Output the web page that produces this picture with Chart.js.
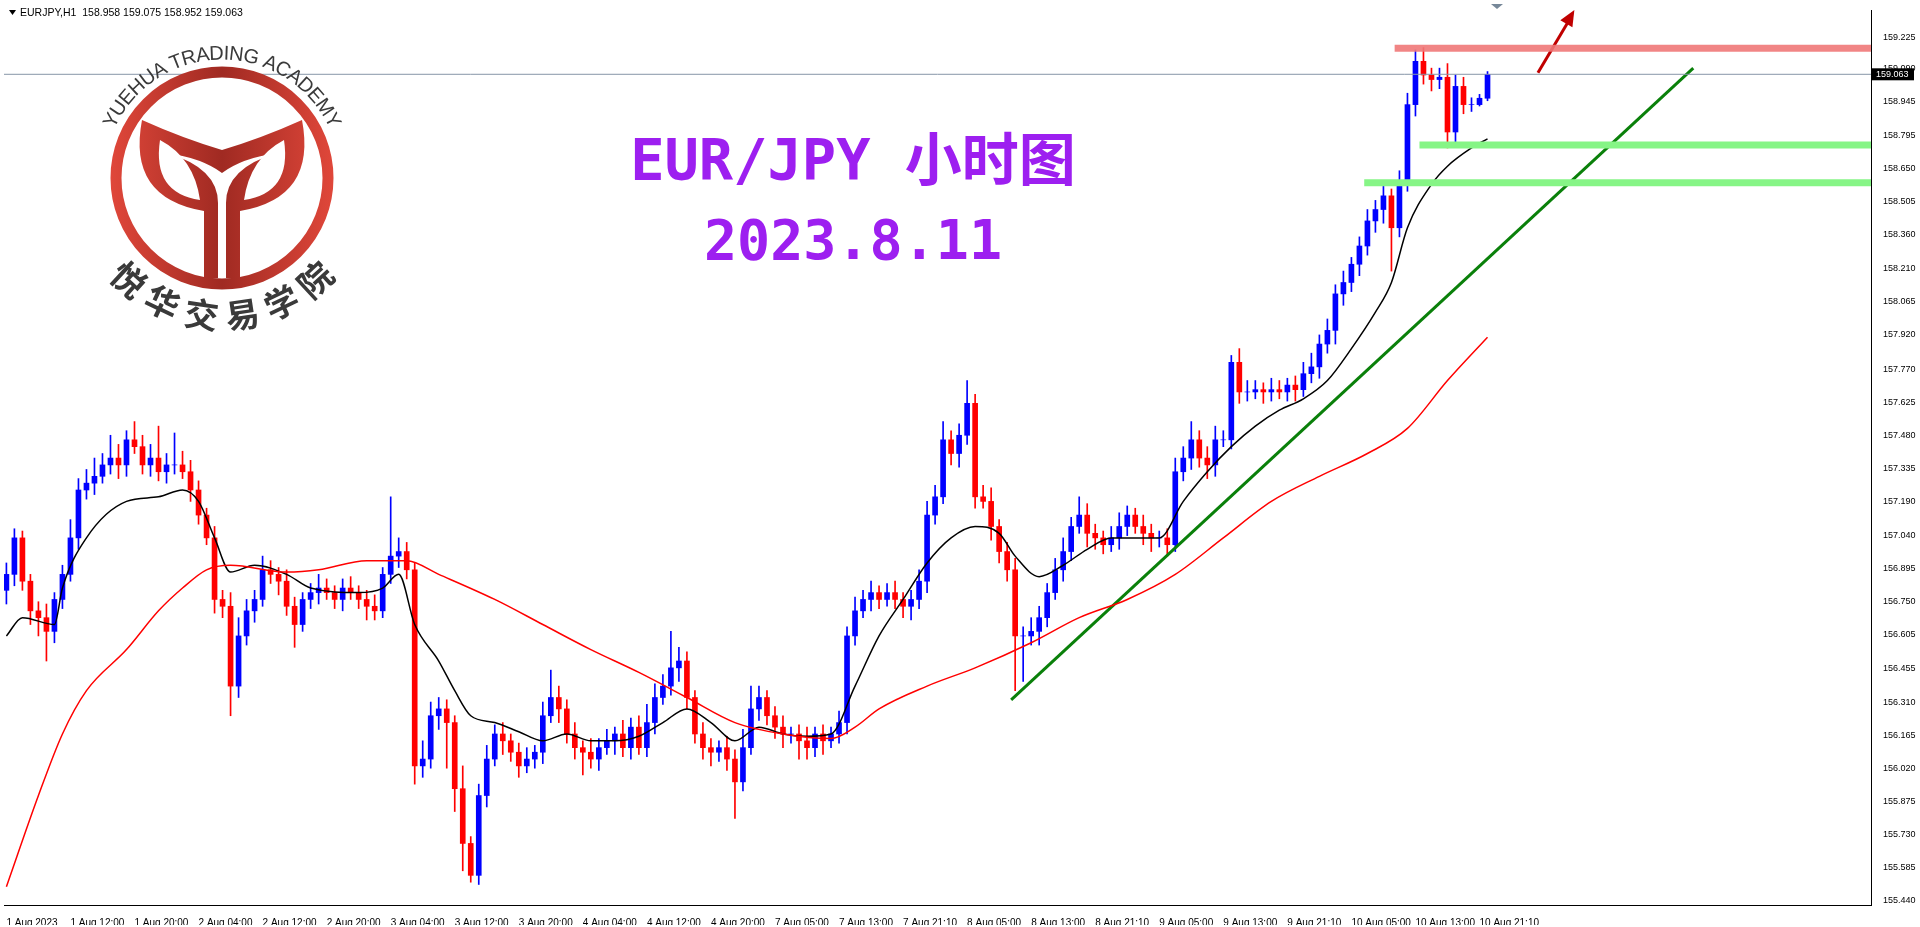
<!doctype html>
<html><head>
<meta charset="utf-8">
<title>EURJPY H1</title>
<script src="https://cdn.jsdelivr.net/npm/chart.js"></script>
<style>
  html, body { margin:0; padding:0; background:#fff; overflow:hidden; }
  #wrap { position:relative; width:1920px; height:927px; }
</style>
</head>
<body>
<div id="wrap"><canvas id="myChart" width="1920" height="927"></canvas></div>
<script>
// closes of each H1 bar (open = previous close)
const closes = [
156.87,157.03,156.84,156.71,156.68,156.62,156.76,156.87,157.03,157.24,
157.27,157.30,157.35,157.38,157.35,157.46,157.43,157.35,157.38,157.32,
157.35,157.35,157.32,157.24,157.13,157.03,156.76,156.73,156.38,156.60,
156.71,156.76,156.89,156.87,156.84,156.73,156.65,156.76,156.79,156.81,
156.79,156.76,156.81,156.79,156.76,156.73,156.71,156.87,156.95,156.97,
156.89,156.03,156.06,156.25,156.28,156.22,155.93,155.69,155.55,155.90,
156.06,156.17,156.14,156.09,156.03,156.06,156.09,156.25,156.33,156.28,
156.17,156.11,156.09,156.06,156.11,156.14,156.17,156.11,156.20,156.11,
156.22,156.33,156.38,156.46,156.49,156.33,156.17,156.11,156.09,156.11,
156.06,155.96,156.11,156.28,156.33,156.25,156.20,156.17,156.17,156.14,
156.11,156.17,156.14,156.17,156.22,156.60,156.71,156.76,156.79,156.76,
156.79,156.76,156.73,156.76,156.84,157.13,157.21,157.46,157.40,157.48,
157.62,157.21,157.19,157.08,156.97,156.89,156.60,156.60,156.62,156.68,
156.79,156.89,156.97,157.08,157.13,157.05,157.03,157.00,157.03,157.08,
157.13,157.08,157.05,157.03,157.03,157.00,157.32,157.38,157.46,157.38,
157.35,157.46,157.46,157.80,157.67,157.67,157.68,157.67,157.68,157.67,
157.70,157.68,157.75,157.78,157.88,157.94,158.10,158.15,158.23,158.31,
158.42,158.47,158.53,158.39,158.58,158.93,159.12,159.06,159.04,159.05,
158.81,159.01,158.93,158.93,158.958,159.063
];
const firstOpen = 156.80;
// upper / lower wick lengths in hundredths of a yen
const upWick = [
5,4,3,3,4,6,3,4,8,5, 6,8,5,10,6,4,8,5,6,14, 5,14,6,5,4,3,5,4,6,8,
5,4,6,4,3,5,4,3,4,6, 4,3,4,5,3,4,5,3,26,6, 4,3,8,6,5,4,3,10,3,5,
6,4,5,3,4,5,3,6,12,5, 4,5,3,6,4,5,3,6,4,5, 8,6,5,16,6,4,3,5,4,3,
5,4,8,10,5,3,4,5,3,4, 6,3,4,3,5,4,6,4,5,3, 4,5,3,4,5,6,5,8,4,5,
10,4,5,6,3,4,5,4,6,5, 4,5,6,4,8,5,4,3,5,6, 4,3,5,4,3,4,6,5,8,4,
5,6,4,3,6,5,4,3,5,4, 3,4,5,6,4,5,4,5,3,4, 5,4,5,3,6,5,5,6,3,4,
6,5,4,3,1.7,1.2
];
const dnWick = [
6,5,4,6,8,13,5,4,3,5, 4,5,3,4,6,5,3,4,5,4, 5,4,3,5,4,3,6,5,13,5,
4,5,3,4,6,4,10,3,4,5, 3,4,5,3,4,6,4,3,4,5, 4,8,5,4,6,20,10,12,3,4,
5,3,6,4,5,3,4,5,3,6, 4,5,10,4,5,3,6,4,5,3, 4,5,3,4,6,5,4,5,6,4,
5,16,4,3,5,4,5,6,4,8, 5,4,6,3,4,5,4,3,5,4, 3,4,5,6,4,5,4,3,5,6,
4,5,3,6,5,5,24,20,4,6, 4,3,5,4,3,6,5,4,3,5, 4,3,5,6,4,5,3,4,5,4,
6,5,3,4,5,4,3,5,4,3, 4,5,3,4,5,4,6,5,4,5, 4,5,6,19,4,3,5,4,5,4,
7,5,4,3,0.6,1.1
];
// moving averages: [bar, price]
const maFast = [
[0,156.60],[2,156.68],[6,156.65],[7,156.81],[10,157.03],[15,157.19],[19,157.21],[22,157.24],
[24,157.19],[26,157.03],[28,156.88],[31,156.91],[35,156.87],[38,156.81],[44,156.79],[47,156.81],
[49,156.87],[51,156.65],[54,156.49],[56,156.36],[58,156.25],[61,156.22],[64,156.18],[67,156.14],
[70,156.17],[73,156.14],[76,156.14],[79,156.16],[82,156.22],[85,156.28],[88,156.22],[91,156.14],
[94,156.20],[97,156.17],[100,156.16],[103,156.17],[106,156.38],[109,156.60],[112,156.76],[115,156.92],
[118,157.03],[121,157.08],[124,157.05],[126,156.95],[129,156.86],[132,156.91],[135,156.98],[138,157.03],
[141,157.03],[144,157.03],[147,157.19],[150,157.32],[153,157.43],[156,157.52],[159,157.59],[162,157.64],
[165,157.72],[168,157.86],[171,158.02],[173,158.15],[175,158.39],[178,158.58],[180,158.66],[183,158.74],
[185,158.78]
];
const maSlow = [
[0,155.50],[4,155.90],[7,156.17],[10,156.36],[15,156.54],[19,156.71],[22,156.81],[25,156.89],
[28,156.91],[35,156.88],[39,156.89],[45,156.93],[50,156.93],[54,156.87],[61,156.76],[67,156.65],
[73,156.54],[79,156.44],[85,156.33],[91,156.22],[97,156.17],[103,156.15],[106,156.20],[109,156.28],
[115,156.38],[121,156.46],[128,156.57],[134,156.68],[140,156.76],[146,156.87],[152,157.03],[158,157.19],
[164,157.30],[170,157.40],[175,157.51],[180,157.72],[185,157.91]
];
const trendLine = [[125.5,156.32],[210.7,159.09]];
const resistance = [[173.4,159.177],[240,159.177]];
const support1 = [[176.5,158.753],[240,158.753]];
const support2 = [[169.6,158.587],[240,158.587]];
const arrowPts = [[191.3,159.07],[195.6,159.33]];
const lastPrice = 159.063;
const yTicks = [159.225,159.090,158.945,158.795,158.650,158.505,158.360,158.210,158.065,157.920,
157.770,157.625,157.480,157.335,157.190,157.040,156.895,156.750,156.605,156.455,156.310,156.165,
156.020,155.875,155.730,155.585,155.440];
const xLabels = ['1 Aug 2023','1 Aug 12:00','1 Aug 20:00','2 Aug 04:00','2 Aug 12:00','2 Aug 20:00',
'3 Aug 04:00','3 Aug 12:00','3 Aug 20:00','4 Aug 04:00','4 Aug 12:00','4 Aug 20:00','7 Aug 05:00',
'7 Aug 13:00','7 Aug 21:10','8 Aug 05:00','8 Aug 13:00','8 Aug 21:10','9 Aug 05:00','9 Aug 13:00',
'9 Aug 21:10','10 Aug 05:00','10 Aug 13:00','10 Aug 21:10'];

var opens = closes.map((c,i) => i === 0 ? firstOpen : closes[i-1]);
var bodies = closes.map((c,i) => ({x:i, y:[opens[i], c]}));
var wicks = closes.map((c,i) => ({x:i, y:[Math.min(opens[i],c) - dnWick[i]/100, Math.max(opens[i],c) + upWick[i]/100]}));
var candleColor = ctx => { var i = ctx.dataIndex; return closes[i] >= opens[i] ? '#0000ff' : '#ff0000'; };
var pts = a => a.map(p => ({x:p[0], y:p[1]}));
var lineDs = (data, color, width, extra) => Object.assign({type:'line', data:pts(data), borderColor:color,
  borderWidth:width, pointRadius:0, tension:0, order:0}, extra || {});

// logo, titles, header and price label
const overlay = {
  id:'overlay',
  afterDatasetsDraw(chart) {
    var c = chart.ctx, ys = chart.scales.y, ca = chart.chartArea;
    c.save();
    // logo
    var cx = 222, cy = 178;
    var g = c.createLinearGradient(cx-112,0,cx+112,0);
    g.addColorStop(0,'#e0473a'); g.addColorStop(0.5,'#a02a22'); g.addColorStop(1,'#e0473a');
    c.strokeStyle = g; c.fillStyle = g;
    c.lineWidth = 11;
    c.beginPath(); c.arc(cx, cy, 106, 0, Math.PI*2); c.stroke();
    // cup / leaves
    c.beginPath();
    c.moveTo(cx-80, cy-58);
    c.quadraticCurveTo(cx-40, cy-40, cx, cy-28);
    c.quadraticCurveTo(cx+40, cy-40, cx+80, cy-58);
    c.quadraticCurveTo(cx+95, cy+20, cx+18, cy+33);
    c.lineTo(cx+18, cy+100); c.lineTo(cx+4, cy+100); c.lineTo(cx+4, cy+25);
    c.quadraticCurveTo(cx+4, cy-10, cx+55, cy-25);
    c.quadraticCurveTo(cx+20, cy-20, cx, cy-5);
    c.quadraticCurveTo(cx-20, cy-20, cx-55, cy-25);
    c.quadraticCurveTo(cx-4, cy-10, cx-4, cy+25);
    c.lineTo(cx-4, cy+100); c.lineTo(cx-18, cy+100); c.lineTo(cx-18, cy+33);
    c.quadraticCurveTo(cx-95, cy+20, cx-80, cy-58);
    c.closePath(); c.fill();
    c.fillStyle = '#fff';
    c.beginPath();
    c.moveTo(cx-62, cy-38);
    c.quadraticCurveTo(cx-70, cy+15, cx-22, cy+22);
    c.quadraticCurveTo(cx-28, cy-20, cx-62, cy-38);
    c.moveTo(cx+62, cy-38);
    c.quadraticCurveTo(cx+70, cy+15, cx+22, cy+22);
    c.quadraticCurveTo(cx+28, cy-20, cx+62, cy-38);
    c.fill();
    // arc texts, spaced by glyph width
    c.fillStyle = '#3a3a3a';
    c.textAlign = 'center'; c.textBaseline = 'middle';
    var arcText = (txt, r, aMid, font, below, gap) => {
      c.font = font;
      var ws = [...txt].map(ch => c.measureText(ch).width + gap);
      var total = ws.reduce((a,b) => a+b, 0);
      var dir = below ? -1 : 1;
      var a = aMid - dir*total/2/r;
      [...txt].forEach((ch,k) => {
        var am = a + dir*ws[k]/2/r;
        c.save();
        c.translate(cx + r*Math.cos(am), cy + r*Math.sin(am));
        c.rotate(below ? am - Math.PI/2 : am + Math.PI/2);
        c.fillText(ch, 0, 0);
        c.restore();
        a += dir*ws[k]/r;
      });
    };
    arcText('YUEHUA TRADING ACADEMY', 124, -Math.PI/2, '20px "Liberation Sans"', false, 0);
    arcText('悦华交易学院', 138, Math.PI/2, 'bold 34px "Noto Sans CJK SC"', true, 7);
    // titles
    c.fillStyle = '#9d1ff0';
    c.font = 'bold 57px "DejaVu Sans Mono", "Noto Sans CJK SC"';
    c.fillText('EUR/JPY 小时图', 853, 165);
    c.font = 'bold 55px "DejaVu Sans Mono"';
    c.fillText('2023.8.11', 853, 245);
    // header
    c.fillStyle = '#000';
    c.textAlign = 'left';
    c.font = '10.5px "Liberation Sans"';
    c.fillText('EURJPY,H1  158.958 159.075 158.952 159.063', 20, 13);
    c.beginPath(); c.moveTo(9,10); c.lineTo(16,10); c.lineTo(12.5,15); c.closePath(); c.fill();
    // little marker at the top
    c.fillStyle = '#778899';
    c.beginPath(); c.moveTo(1491,4); c.lineTo(1503,4); c.lineTo(1497,9); c.closePath(); c.fill();
    // current price box
    var py = ys.getPixelForValue(lastPrice);
    c.fillStyle = '#000';
    c.fillRect(ca.right+1, py-6, 42, 12);
    c.fillStyle = '#fff';
    c.font = '9px "Liberation Sans"';
    c.fillText(lastPrice.toFixed(3), ca.right+5, py);
    // arrow head
    var xs = chart.scales.x;
    var x1 = xs.getPixelForValue(arrowPts[1][0]), y1 = ys.getPixelForValue(arrowPts[1][1]);
    var x0 = xs.getPixelForValue(arrowPts[0][0]), y0 = ys.getPixelForValue(arrowPts[0][1]);
    var ang = Math.atan2(y1-y0, x1-x0);
    c.fillStyle = '#c00000';
    c.translate(x1, y1); c.rotate(ang);
    c.beginPath(); c.moveTo(4,0); c.lineTo(-12,-7); c.lineTo(-12,7); c.closePath(); c.fill();
    c.restore();
  }
};

var ctx = document.getElementById('myChart');
var myChart = new Chart(ctx, {
  data: {
    datasets: [
      lineDs([[-1,lastPrice],[240,lastPrice]], '#8796a8', 1),
      lineDs(resistance, 'rgba(240,120,120,0.9)', 7),
      lineDs(support1, '#86f586', 7),
      lineDs(support2, '#86f586', 7),
      lineDs(maSlow, '#ff0000', 1.5, {cubicInterpolationMode:'monotone'}),
      lineDs(maFast, '#000000', 1.5, {cubicInterpolationMode:'monotone'}),
      lineDs(trendLine, '#0a800a', 3),
      lineDs([arrowPts[0], [arrowPts[1][0]-0.5, arrowPts[1][1]-0.035]], '#c00000', 3),
      { type:'bar', data:wicks, backgroundColor:candleColor, barThickness:1, grouped:false, order:2 },
      { type:'bar', data:bodies, backgroundColor:candleColor, barThickness:5, grouped:false, order:1 }
    ]
  },
  options: {
    responsive:false, animation:false, devicePixelRatio:1,
    layout:{ padding:{ left:4, top:10, right:0, bottom:2 } },
    plugins:{ legend:{display:false}, tooltip:{enabled:false} },
    scales:{
      x:{ type:'linear', min:-0.3, max:232.9, offset:false,
          grid:{display:false}, border:{display:true, color:'#000'},
          afterBuildTicks: s => { s.ticks = xLabels.map((l,i) => ({value:i*8})); },
          afterFit: s => { s.height = 20; },
          ticks:{ autoSkip:false, maxRotation:0, align:'start', padding:4, color:'#000',
                  font:{family:'Liberation Sans', size:10},
                  callback:(v) => xLabels[Math.round(v/8)] } },
      y:{ position:'right', min:155.42, max:159.345,
          grid:{display:false, drawTicks:true}, border:{display:true, color:'#000'},
          afterBuildTicks: s => { s.ticks = yTicks.map(v => ({value:v})); },
          afterFit: s => { s.width = 49; },
          ticks:{ autoSkip:false, padding:4, color:'#000', font:{family:'Liberation Sans', size:9},
                  callback:(v) => Number(v).toFixed(3) } }
    }
  },
  plugins:[overlay]
});
</script>
</body></html>
